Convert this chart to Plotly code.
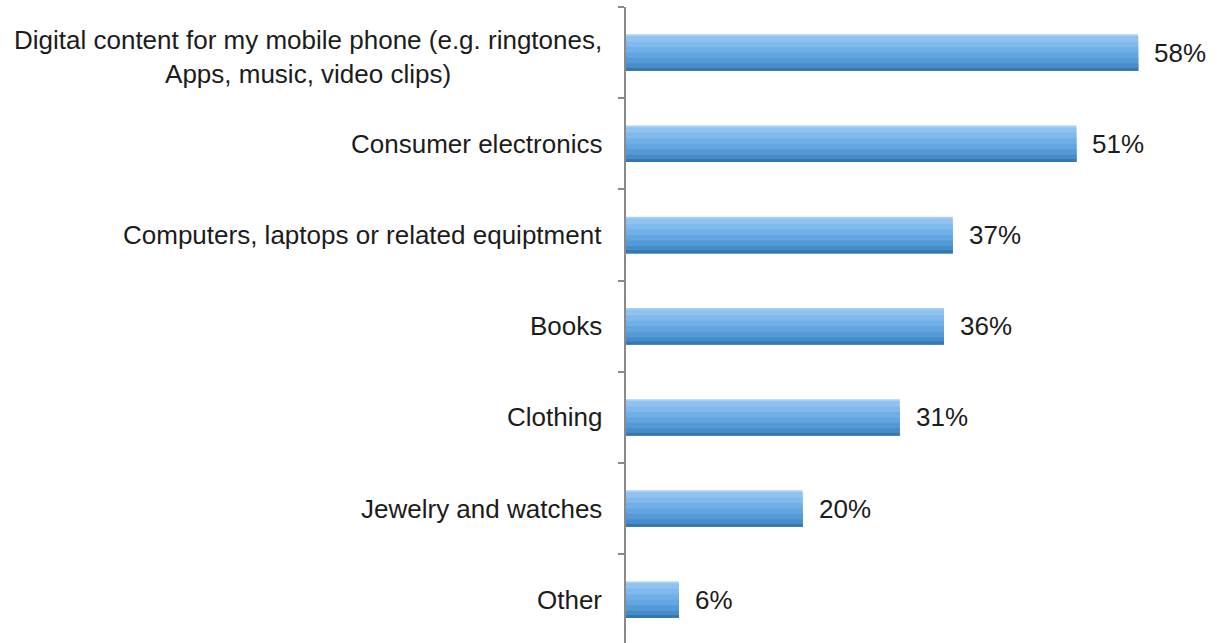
import plotly.graph_objects as go

# Survey categories and share of respondents (%)
categories = [
    "Digital content for my mobile phone (e.g. ringtones,<br>Apps, music, video clips)",
    "Consumer electronics",
    "Computers, laptops or related equiptment",
    "Books",
    "Clothing",
    "Jewelry and watches",
    "Other",
]
values = [58, 51, 37, 36, 31, 20, 6]
value_labels = ["58%", "51%", "37%", "36%", "31%", "20%", "6%"]

# Vertical shading bands of each bar, top to bottom: (fraction of bar height, colour)
bar_width = 0.4
bands = [
    (0.05, "#a8cff5"),
    (0.15, "#90c2f0"),
    (0.15, "#80b9ec"),
    (0.15, "#71afe7"),
    (0.15, "#62a5e0"),
    (0.15, "#549ad7"),
    (0.12, "#468cc9"),
    (0.08, "#3677b0"),
]

fig = go.Figure()
start = -bar_width / 2
bottom = bar_width / 2
for frac, color in bands:
    # each band runs to the bar's bottom edge; the next band paints over it,
    # so no hairline gaps appear between bands
    fig.add_trace(go.Bar(
        x=values,
        y=categories,
        orientation="h",
        offset=start,
        width=bottom - start,
        marker=dict(color=color, line=dict(width=0)),
        hoverinfo="skip",
        showlegend=False,
    ))
    start += bar_width * frac

text_font = dict(family="Liberation Sans, Arial, sans-serif", size=26, color="#1c1c1c")

annotations = []
# Category labels left of the axis, centred line-by-line
for i, cat in enumerate(categories):
    annotations.append(dict(
        x=0, xref="paper", y=cat, yref="y",
        text=cat, showarrow=False,
        xanchor="right", yanchor="middle", align="center",
        xshift=-22, yshift=-4 if i == 0 else 0, font=text_font,
    ))
# Value labels to the right of each bar
for cat, v, lab in zip(categories, values, value_labels):
    annotations.append(dict(
        x=v, xref="x", y=cat, yref="y",
        text=lab, showarrow=False,
        xanchor="left", yanchor="middle",
        xshift=14, font=text_font,
    ))

fig.update_layout(
    width=1221,
    height=643,
    margin=dict(l=626, r=21, t=7, b=0),
    paper_bgcolor="white",
    plot_bgcolor="white",
    barmode="overlay",
    annotations=annotations,
    xaxis=dict(range=[0, 65], visible=False, showgrid=False, zeroline=False),
    yaxis=dict(
        type="category",
        categoryorder="array",
        categoryarray=categories,
        range=[6.474, -0.5],
        showticklabels=False,
        showline=True,
        linecolor="#8a8a8a",
        linewidth=1.5,
        ticks="outside",
        tickson="boundaries",
        ticklen=6,
        tickcolor="#8a8a8a",
        tickwidth=1.5,
        showgrid=False,
        zeroline=False,
    ),
)

fig.write_html("out.html")
